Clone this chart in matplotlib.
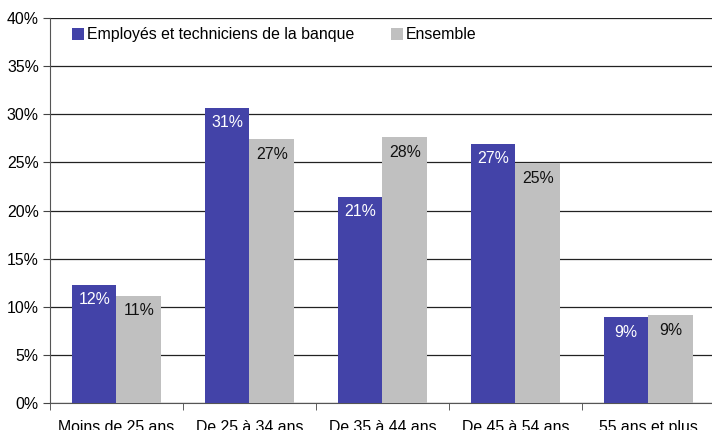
import numpy as np
import matplotlib.pyplot as plt
from matplotlib.ticker import FixedLocator, NullFormatter

plt.rcParams['font.family'] = ['Liberation Sans', 'DejaVu Sans']

# Répartition par âge (%)
categories = ['Moins de 25 ans', 'De 25 à 34 ans', 'De 35 à 44 ans',
              'De 45 à 54 ans', '55 ans et plus']
banque = [12.3, 30.7, 21.4, 26.9, 8.9]
ensemble = [11.1, 27.4, 27.6, 24.9, 9.1]
series_names = ['Employés et techniciens de la banque', 'Ensemble']

blue = '#4343A8'
grey = '#C0C0C0'
fs = 11.4

fig = plt.figure(figsize=(7.12, 4.30), dpi=100)
ax = fig.add_axes([0.0702, 0.0628, 0.934, 0.8953])

x = np.arange(len(categories))
w = 0.335
b1 = ax.bar(x - w / 2, banque, w, color=blue, label=series_names[0], zorder=3)
b2 = ax.bar(x + w / 2, ensemble, w, color=grey, label=series_names[1], zorder=3)

# valeurs arrondies dans le haut des barres
for bars, vals, col in [(b1, banque, 'white'), (b2, ensemble, '#111111')]:
    for rect, v in zip(bars, vals):
        ax.text(rect.get_x() + rect.get_width() / 2, v - 0.75, f'{round(v)}%',
                ha='center', va='top', color=col, fontsize=fs, zorder=4)

ax.set_xlim(-0.5, len(categories) - 0.5)
ax.set_ylim(0, 40)
ax.set_yticks(np.arange(0, 41, 5))
ax.set_yticklabels([f'{t}%' for t in range(0, 41, 5)], fontsize=fs)
ax.yaxis.grid(True, color='#222222', linewidth=0.9, zorder=0)

# catégories centrées, tirets entre les groupes
ax.set_xticks(x)
ax.set_xticklabels(categories, fontsize=fs)
ax.tick_params(axis='x', which='major', length=0, pad=12)
ax.xaxis.set_minor_locator(FixedLocator(np.arange(-0.5, len(categories), 1)))
ax.xaxis.set_minor_formatter(NullFormatter())
ax.tick_params(axis='x', which='minor', length=5, color='#444444')
ax.tick_params(axis='y', length=5, color='#444444', pad=3)

for s in ['top', 'right']:
    ax.spines[s].set_visible(False)
ax.spines['left'].set_color('#555555')
ax.spines['bottom'].set_color('#555555')

ax.legend(loc='upper left', bbox_to_anchor=(0.012, 1.013), ncol=2, frameon=False,
          fontsize=fs, handlelength=0.75, handleheight=0.75, handletextpad=0.2,
          columnspacing=2.3)

fig.savefig('out.png', dpi=100)
